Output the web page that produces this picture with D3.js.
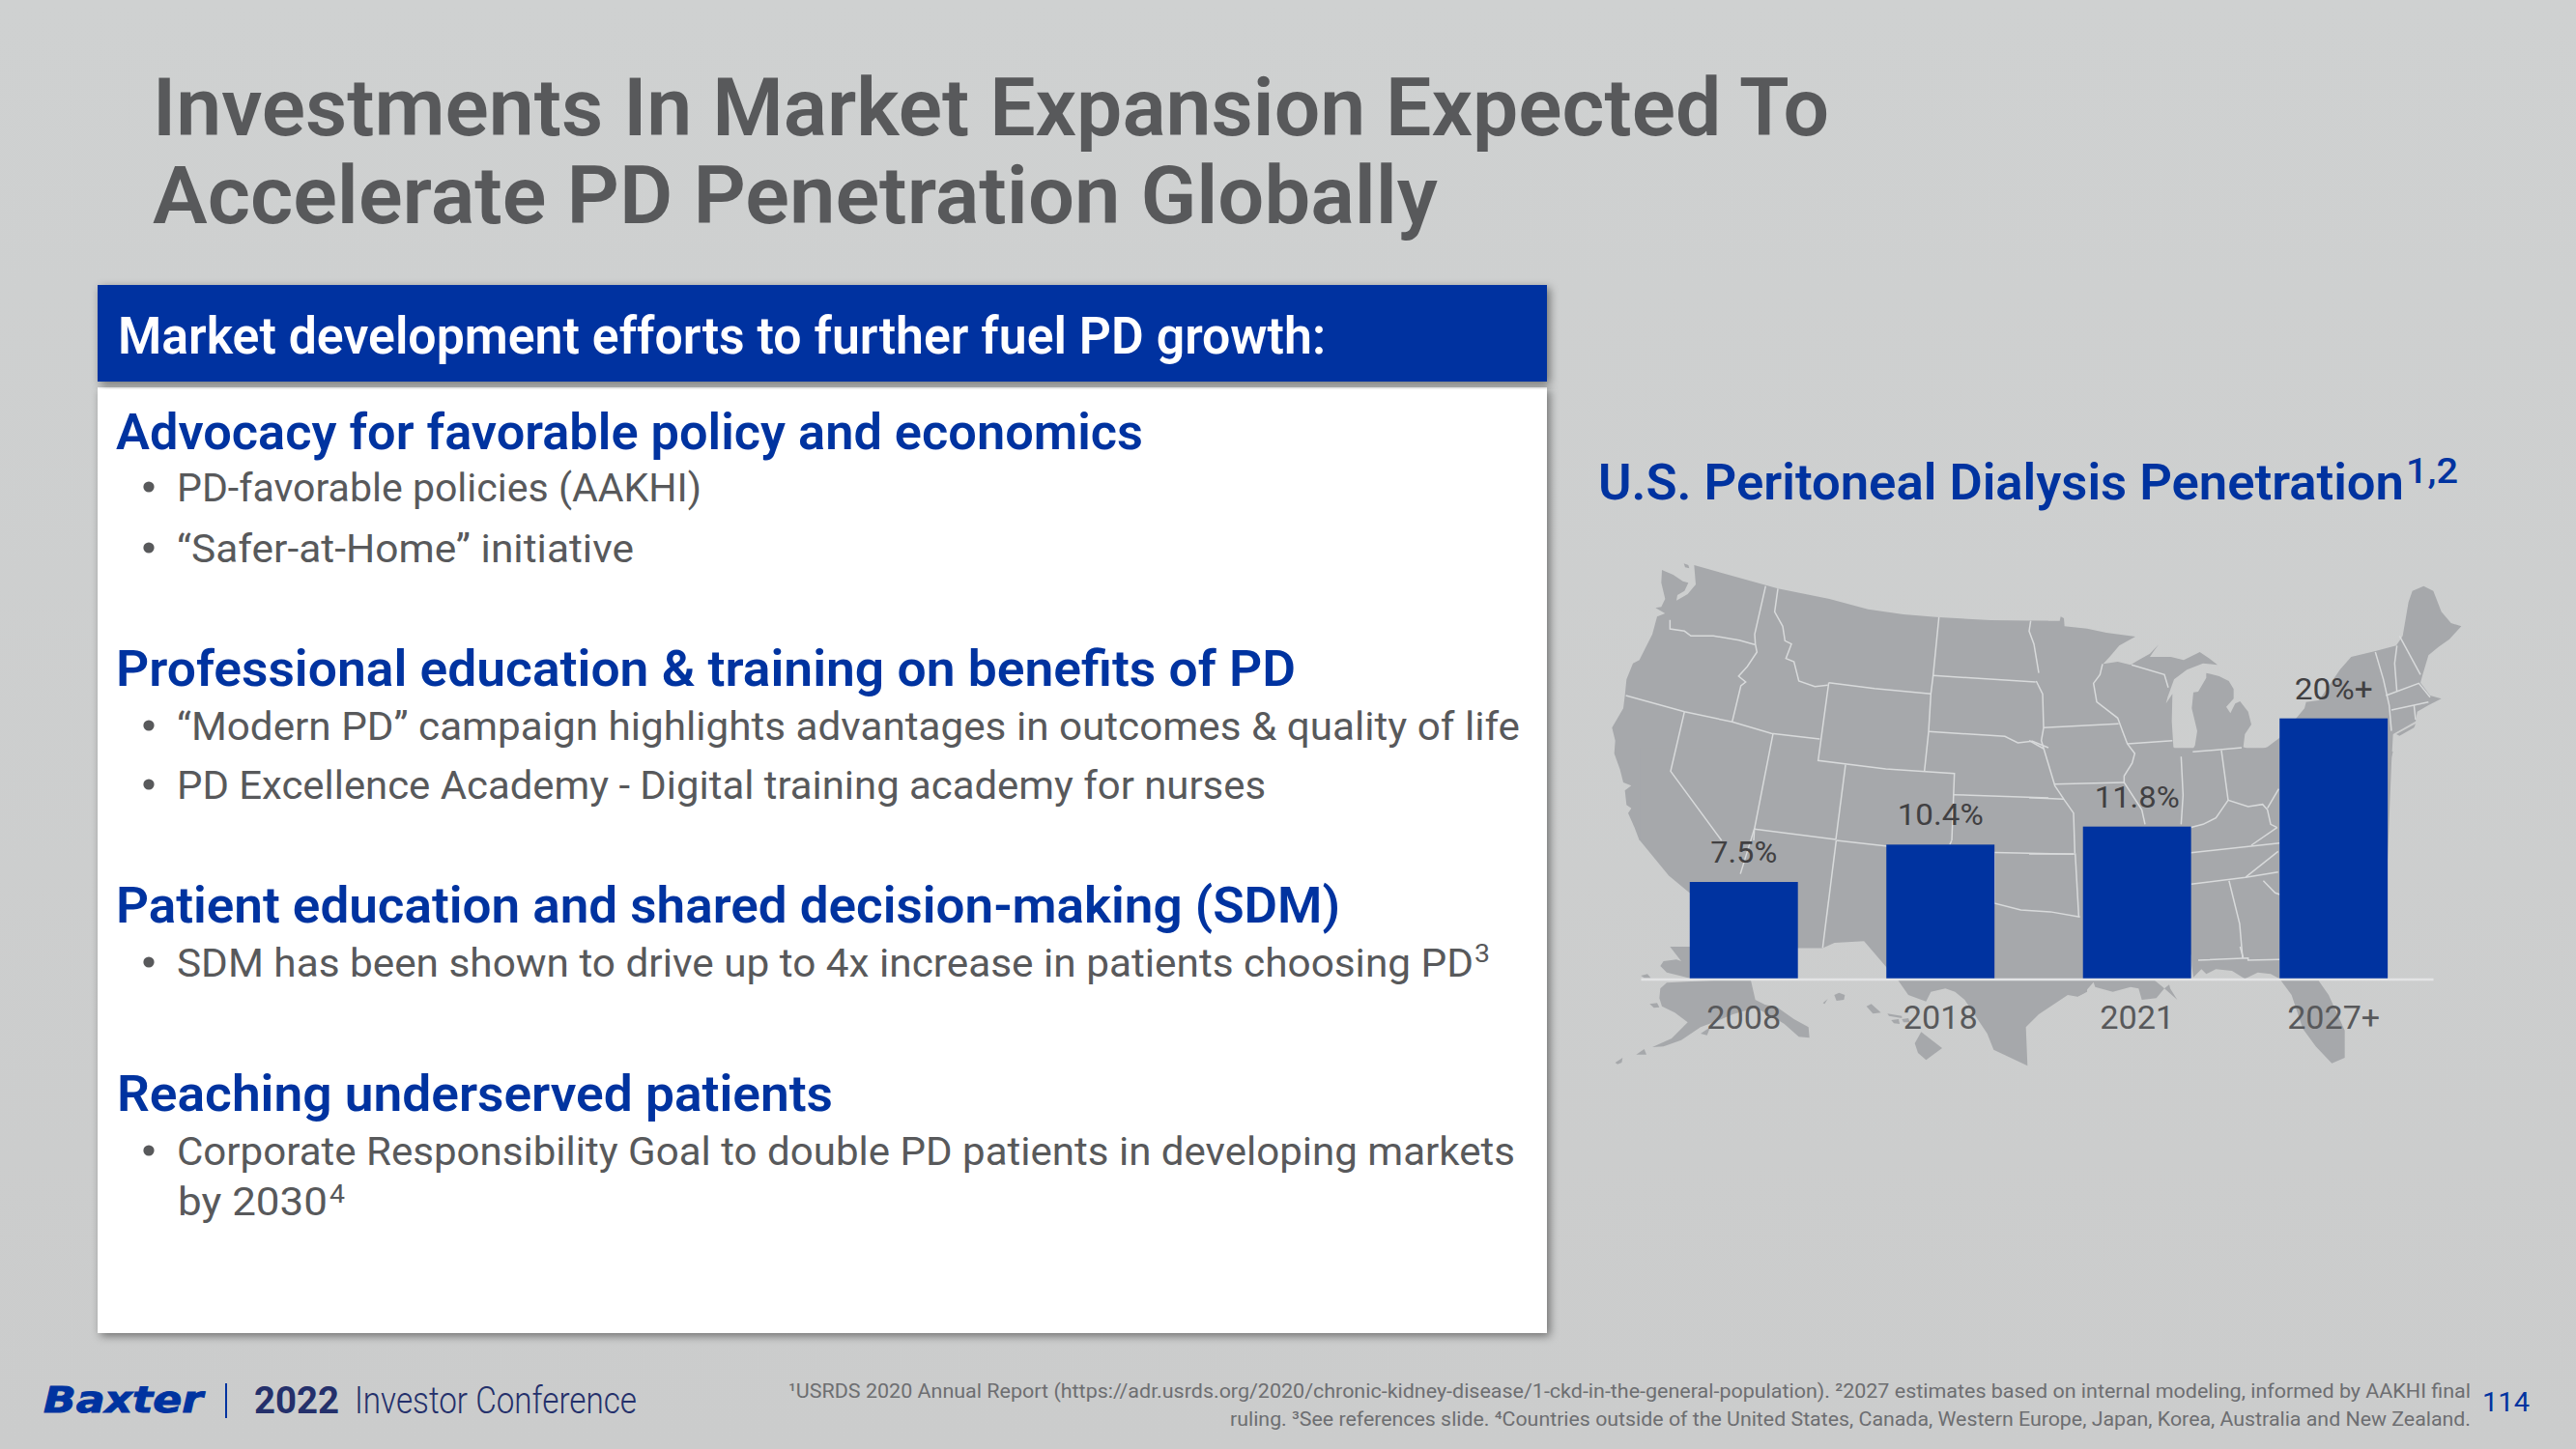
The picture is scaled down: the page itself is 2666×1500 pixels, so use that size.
<!DOCTYPE html>
<html><head><meta charset="utf-8">
<script src="https://cdn.jsdelivr.net/npm/d3@7"></script>
<style>html,body{margin:0;padding:0;background:#cdcfd0;overflow:hidden}svg{display:block}</style>
</head><body><svg id="c" width="2666" height="1500"></svg>
<script>
const categories = ["2008","2018","2021","2027+"];
const values = [7.5,10.4,11.8,20.2];
const valueLabels = ["7.5%","10.4%","11.8%","20%+"];
const labelWidths = [69,89,88,81];
const categoryWidths = [77,77,77,96];
const chartTitle = "U.S. Peritoneal Dialysis Penetration";
const titleLines = ["Investments In Market Expansion Expected To","Accelerate PD Penetration Globally"];
const panelHeader = "Market development efforts to further fuel PD growth:";
// heading rows: [text, left, baseline, right]
const headings = [
 ["Advocacy for favorable policy and economics",120,465,1183],
 ["Professional education & training on benefits of PD",120,710,1341],
 ["Patient education and shared decision-making (SDM)",120,955,1387],
 ["Reaching underserved patients",121,1150,862]];
const bullets = [
 ["PD-favorable policies (AAKHI)",183,519,726,1],
 ["“Safer-at-Home” initiative",183,582,656,1],
 ["“Modern PD” campaign highlights advantages in outcomes & quality of life",183,766,1573,1],
 ["PD Excellence Academy - Digital training academy for nurses",183,827,1310,1],
 ["SDM has been shown to drive up to 4x increase in patients choosing PD",183,1011,1525,1],
 ["Corporate Responsibility Goal to double PD patients in developing markets",183,1206,1568,1],
 ["by 2030",184,1258,339,0]];
const footnotes = [
 ["¹USRDS 2020 Annual Report (https://adr.usrds.org/2020/chronic-kidney-disease/1-ckd-in-the-general-population). ²2027 estimates based on internal modeling, informed by AAKHI final",816,1447,2557],
 ["ruling. ³See references slide. ⁴Countries outside of the United States, Canada, Western Europe, Japan, Korea, Australia and New Zealand.",1273,1476,2557]];

// Backdrop map, traced in five overlapping tracing frames: [originX, originY, scaleX, scaleY]
const frames = {A:[1660,570,1/3,1/3],B:[2100,590,1/3,1/3],C:[1660,980,1/3,1/3],D:[2150,980,1/3,1/3],E:[1620,560,.6122,.3571]};
const land = [
 ["A",[[180,60],[215,75],[245,95],[262,100],[250,125],[228,138],[225,155],[260,135],[285,105],[280,45],[540,118],[700,150],[820,182],[930,198],[1040,207],[1200,216],[1380,218],[1380,900],[110,900],[95,860],[75,815],[85,800],[70,790],[65,745],[85,730],[60,720],[50,680],[32,630],[35,590],[25,550],[60,490],[65,450],[70,400],[90,350],[110,340],[125,310],[150,260],[165,205],[190,195],[160,178],[178,175],[190,150],[178,100]]],
 ["A",[[248,40],[262,45],[265,55],[252,52]]],
 ["B",[[0,158],[95,158],[98,145],[108,150],[110,175],[180,182],[240,195],[330,207],[280,235],[250,270],[230,292],[275,285],[315,295],[340,280],[375,260],[402,232],[385,255],[375,270],[440,270],[480,280],[530,255],[560,275],[585,295],[540,290],[490,310],[450,340],[430,395],[425,415],[445,385],[443,470],[448,550],[470,578],[500,570],[515,545],[522,500],[505,430],[510,380],[525,378],[550,335],[550,320],[590,330],[620,345],[635,370],[635,400],[612,425],[625,445],[640,415],[655,408],[680,440],[690,480],[670,510],[665,550],[700,565],[740,550],[780,520],[855,430],[860,410],[900,405],[965,310],[1000,270],[1075,252],[1140,235],[1160,205],[1178,100],[1190,65],[1225,50],[1255,65],[1280,130],[1310,165],[1342,175],[1305,215],[1270,240],[1240,265],[1222,325],[1215,350],[1245,390],[1280,400],[1240,420],[1205,440],[1200,470],[1130,510],[1125,600],[1113,900],[0,900]]],
 ["B",[[1140,510],[1200,478],[1195,490],[1150,515]]],
 ["B",[[1113,560],[1130,565],[1118,605]]],
 ["E",[[126,868],[175,970],[210,1020],[300,1110],[393,1180],[435,1180],[455,1165],[505,1160],[560,1270],[1057,1270],[1057,1200],[1208,1200],[1208,1270],[1390,1270],[1390,600],[126,600]]],
 ["D",[[352,0],[628,0],[628,100],[600,85],[560,80],[520,100],[480,75],[430,70],[400,85],[385,70],[360,95],[355,60]]],
 ["C",[[910,100],[945,150],[1000,170],[1015,140],[1060,130],[1090,140],[1120,165],[1190,270],[1210,320],[1315,370],[1310,250],[1350,210],[1440,150],[1470,155],[1500,140],[1500,100]]],
 ["D",[[0,100],[0,155],[20,145],[50,110],[55,125],[110,140],[165,125],[190,130],[200,165],[245,160],[270,130],[285,118],[288,130],[310,165],[265,125],[240,105],[240,100]]],
 ["D",[[628,100],[665,150],[700,255],[740,310],[790,362],[830,345],[830,260],[780,150],[745,100]]],
 ["C",[[175,130],[195,112],[270,108],[455,100],[470,165],[500,180],[540,190],[590,225],[635,250],[638,283],[605,280],[560,240],[520,215],[470,190],[400,210],[340,235],[300,250],[240,290],[185,310],[150,312],[210,285],[260,235],[220,205],[180,185],[172,160]]],
 ["C",[[205,0],[267,0],[267,98],[235,90],[195,80],[175,60],[185,45],[225,40],[240,45]]],
 ["C",[[115,90],[135,85],[145,97],[125,97]]],["C",[[142,178],[165,175],[172,188],[155,190]]],
 ["C",[[100,335],[125,318],[132,335]]],["C",[[35,360],[58,345],[55,360],[42,365]]],["C",[[300,270],[330,250],[320,275]]],
 ["C",[[715,150],[730,143],[748,150],[745,165],[722,168]]],["C",[[680,175],[695,162],[685,178]]],
 ["C",[[815,185],[830,178],[860,205],[835,208]]],["C",[[880,208],[925,215],[925,222],[885,215]]],
 ["C",[[892,228],[915,225],[918,240],[900,238]]],["C",[[925,225],[945,222],[950,235],[930,235]]],
 ["C",[[965,300],[985,265],[1050,315],[1000,352],[975,330]]]
];
const borders = [
 ["A",[[502,110],[468,260],[470,290],[475,315],[445,360],[418,390],[440,408],[425,420],[398,532]]],
 ["A",[[540,118],[530,190],[555,235],[562,280],[582,290],[565,335],[590,345],[605,405],[655,422],[695,418]]],
 ["A",[[205,215],[205,243],[250,250],[270,265],[340,265],[420,278],[468,292]]],
 ["A",[[68,450],[250,500],[398,532],[520,568],[670,585]]],
 ["A",[[250,500],[207,685],[365,900]]],
 ["A",[[525,568],[467,865],[465,900]]],
 ["A",[[467,865],[720,897]]],
 ["A",[[750,665],[720,897]]],
 ["A",[[698,410],[665,652],[875,678],[1088,692],[1080,900]]],
 ["A",[[698,410],[840,428],[1015,445]]],
 ["A",[[1040,207],[1022,388],[1015,445],[1008,562],[995,685]]],
 ["A",[[1022,388],[1340,408]]],
 ["A",[[1325,218],[1320,250],[1335,290],[1350,380]]],
 ["A",[[1008,562],[1245,577],[1285,597],[1330,592],[1380,612]]],
 ["A",[[1085,758],[1380,768]]],
 ["B",[[22,345],[42,385],[45,490],[38,530],[65,620],[80,670],[110,715],[138,755],[142,880]]],
 ["B",[[0,530],[45,555]]],
 ["B",[[45,490],[278,478]]],
 ["B",[[228,292],[220,325],[200,352],[210,410],[275,460],[290,500],[305,540],[328,570],[320,600],[295,640],[295,660],[350,745],[360,790]]],
 ["B",[[78,665],[295,660]]],
 ["B",[[305,540],[445,530]]],
 ["B",[[0,707],[108,712]]],
 ["B",[[472,580],[478,700],[472,790]]],
 ["B",[[508,565],[660,552]]],
 ["B",[[597,560],[618,715]]],
 ["B",[[500,800],[540,790],[580,770],[618,715],[680,735],[725,728],[740,745],[750,790],[770,800]]],
 ["B",[[740,740],[775,680]]],
 ["B",[[690,855],[770,800]]],
 ["B",[[502,878],[778,848]]],
 ["B",[[0,882],[140,882]]],
 ["B",[[318,295],[420,325],[432,365]]],
 ["B",[[1075,255],[1100,340],[1118,420],[1125,500]]],
 ["B",[[1142,235],[1135,290],[1142,378]]],
 ["B",[[1150,205],[1215,325]]],
 ["B",[[1108,390],[1210,352],[1245,395]]],
 ["B",[[1125,435],[1195,420],[1240,410]]],
 ["B",[[1195,420],[1200,465]]],
 ["E",[[458,868],[435,1180]]],
 ["E",[[320,832],[296,965]]],
 ["E",[[458,868],[545,885]]],
 ["E",[[653,869],[650,880]]],
 ["E",[[725,903],[860,908]]],
 ["E",[[725,905],[725,1050],[770,1070],[820,1075],[870,1090]]],
 ["E",[[862,905],[868,1090]]],
 ["E",[[1058,995],[1150,975],[1205,960]]],
 ["E",[[1122,985],[1140,1110],[1145,1210]]],
 ["E",[[1180,985],[1200,1020],[1208,1025]]],
 ["E",[[1205,900],[1150,975]]],
 ["D",[[375,42],[530,35],[530,42],[628,40]]],
 ["D",[[505,0],[515,35]]]
];

const svg = d3.select("#c");
const defs = svg.append("defs");
const g = defs.append("linearGradient").attr("id","bg").attr("x1",0).attr("y1",0).attr("x2",0).attr("y2",1);
g.append("stop").attr("offset",0).attr("stop-color","#cfd1d1");
g.append("stop").attr("offset",1).attr("stop-color","#cbcccc");
const f = defs.append("filter").attr("id","sh").attr("x","-2%").attr("y","-8%").attr("width","104%").attr("height","116%");
f.append("feDropShadow").attr("dx",3).attr("dy",3).attr("stdDeviation",5).attr("flood-color","#000").attr("flood-opacity",.45);
svg.append("rect").attr("width",2666).attr("height",1500).attr("fill","url(#bg)");

const FONT = "Roboto, sans-serif";
function txt(s,x,y,right,size,weight,fill,family){
  const t = svg.append("text").attr("x",x).attr("y",y).attr("font-family",family||FONT)
    .attr("font-size",size).attr("font-weight",weight).attr("fill",fill).text(s);
  if(right!=null) t.attr("textLength",right-x).attr("lengthAdjust","spacingAndGlyphs");
  return t;
}
// title
txt(titleLines[0],158,140,1893,84,600,"#58595b");
txt(titleLines[1],158,231,1488,84,600,"#58595b");
// panels
svg.append("rect").attr("x",101).attr("y",401).attr("width",1500).attr("height",979).attr("fill","#fff").attr("filter","url(#sh)");
svg.append("rect").attr("x",101).attr("y",295).attr("width",1500).attr("height",100).attr("fill","#0033a0").attr("filter","url(#sh)");
txt(panelHeader,122,366,1372,53,600,"#fff");
headings.forEach(h=>txt(h[0],h[1],h[2],h[3],52,600,"#0033a0"));
bullets.forEach(b=>{
  txt(b[0],b[1],b[2],b[3],41,400,"#58595b");
  if(b[4]) svg.append("circle").attr("cx",154).attr("cy",b[2]-15).attr("r",5.6).attr("fill","#58595b");
});
txt("3",1526,996,1542,26,400,"#58595b");
txt("4",341,1245,357,26,400,"#58595b");
// map
const px = (fr,p)=>{const k=frames[fr];return [k[0]+p[0]*k[2],k[1]+p[1]*k[3]];};
const line = d3.line();
svg.append("g").selectAll("path").data(land).join("path").attr("d",d=>line(d[1].map(p=>px(d[0],p)))+"Z").attr("fill","#a6a8ab");
svg.append("g").selectAll("path").data(borders).join("path").attr("d",d=>line(d[1].map(p=>px(d[0],p)))).attr("fill","none").attr("stroke","#d8dadb").attr("stroke-width",1.5);
// chart
txt(chartTitle,1654,517,2488,52,600,"#0033a0");
txt("1,2",2490,500,2544,37,500,"#0033a0");
const x = d3.scaleBand().domain(categories).range([1698,2518]).paddingInner(.45).paddingOuter(.24).align(.52);
const y = d3.scaleLinear().domain([0,7.5]).range([1013,913]);
svg.append("g").selectAll("rect").data(values).join("rect")
 .attr("x",(d,i)=>x(categories[i])).attr("width",x.bandwidth())
 .attr("y",d=>y(d)).attr("height",d=>y(0)-y(d)).attr("fill","#0033a0");
const ax = svg.append("g").attr("transform","translate(0,1013.5)").call(d3.axisBottom(x).tickSize(0).tickPadding(28));
ax.select(".domain").attr("stroke","#e3e4e5").attr("stroke-width",2.5);
ax.selectAll("text").attr("font-family",FONT).attr("font-size",33).attr("fill","#58595b")
  .attr("textLength",(d,i)=>categoryWidths[i]).attr("lengthAdjust","spacingAndGlyphs");
svg.append("g").selectAll("text").data(valueLabels).join("text")
 .attr("x",(d,i)=>x(categories[i])+x.bandwidth()/2).attr("y",(d,i)=>y(values[i])-20)
 .attr("text-anchor","middle").attr("font-family",FONT).attr("font-size",32).attr("fill","#414042")
 .attr("textLength",(d,i)=>labelWidths[i]).attr("lengthAdjust","spacingAndGlyphs").text(d=>d);
// footer
footnotes.forEach(n=>txt(n[0],n[1],n[2],n[3],20.5,400,"#6d6e71"));
txt("114",2569,1461,2618,27,400,"#0033a0");
txt("Baxter",45,1462,210,38,700,"#0033a0","'DejaVu Sans', sans-serif").attr("font-style","italic").attr("stroke","#0033a0").attr("stroke-width",1);
svg.append("line").attr("x1",234).attr("x2",234).attr("y1",1432).attr("y2",1468).attr("stroke","#0033a0").attr("stroke-width",2);
txt("2022",263,1463,351,38,700,"#24306b");
txt("Investor Conference",367,1463,659,38,300,"#24306b");
</script></body></html>
